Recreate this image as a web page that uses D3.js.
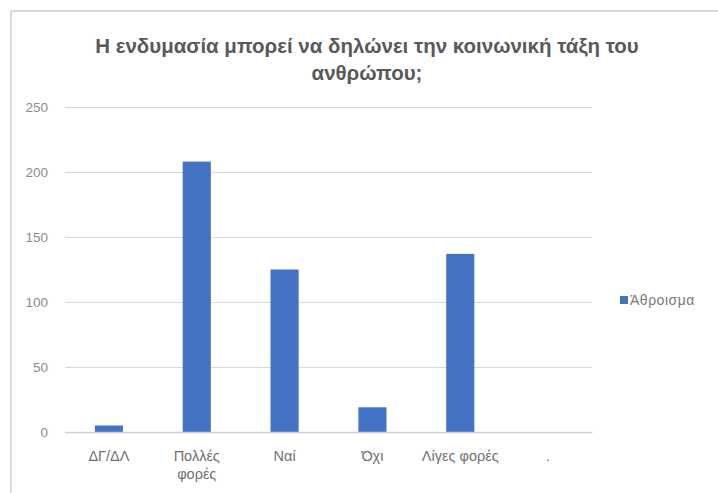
<!DOCTYPE html>
<html><head><meta charset="utf-8">
<script src="https://cdn.jsdelivr.net/npm/d3@7"></script>
<style>body{margin:0;background:#fff}svg{display:block}</style>
</head><body>
<svg id="c" width="718" height="493"></svg>
<script>
const categories = ["ΔΓ/ΔΛ", "Πολλές φορές", "Ναί", "Όχι", "Λίγες φορές", "."];
const values = [5, 208, 125, 19, 137, 0];
const yTicks = [0, 50, 100, 150, 200, 250];
const seriesName = "Άθροισμα";
const titleLines = ["Η ενδυμασία μπορεί να δηλώνει την κοινωνική τάξη του", "ανθρώπου;"];

const svg = d3.select("#c");
const font = "'Liberation Sans', Arial, sans-serif";
// frame
svg.append("path").attr("d", "M11,493 V11 H718").attr("fill", "none").attr("stroke", "#d0d0d0").attr("stroke-width", 1.5);

const m = {l: 65, r: 592, t: 107, b: 432};
const x = d3.scaleBand().domain(categories).range([m.l, m.r]).paddingInner(0.68).paddingOuter(0.34);
const y = d3.scaleLinear().domain([0, 250]).range([m.b, m.t]);

const yAxis = svg.append("g").attr("transform", `translate(${m.l},0)`)
  .call(d3.axisLeft(y).tickValues(yTicks).tickSize(-(m.r - m.l)).tickPadding(17));
yAxis.select(".domain").remove();
yAxis.selectAll(".tick line").attr("stroke", "#d9d9d9").attr("stroke-width", 1);
yAxis.selectAll(".tick text").attr("fill", "#8c8c8c").style("font-family", font).style("font-size", "13.5px");

svg.selectAll("rect.bar").data(values).join("rect").attr("class", "bar")
  .attr("x", (d, i) => x(categories[i])).attr("width", x.bandwidth())
  .attr("y", d => y(d)).attr("height", d => y(0) - y(d)).attr("fill", "#4472c4");

const xAxis = svg.append("g").attr("transform", `translate(0,${m.b})`)
  .call(d3.axisBottom(x).tickSize(0).tickPadding(19));
xAxis.select(".domain").attr("stroke", "#d0d0d0").attr("stroke-width", 1.5);
xAxis.selectAll(".tick text").attr("fill", "#707070").style("font-family", font).style("font-size", "14.5px")
  .each(function(d) {
    const t = d3.select(this);
    if (d === "Πολλές φορές") {
      t.text(null);
      t.append("tspan").attr("x", 0).attr("dy", "0.71em").text("Πολλές");
      t.append("tspan").attr("x", 0).attr("dy", "1.25em").text("φορές");
      t.attr("dy", null);
    }
  });

svg.append("g").selectAll("text").data(titleLines).join("text")
  .attr("x", 367).attr("y", (d, i) => 53 + i * 27).attr("text-anchor", "middle")
  .attr("fill", "#595959").style("font-family", font).style("font-size", "20.5px").style("font-weight", "bold")
  .text(d => d);

const lg = svg.append("g").attr("transform", "translate(620,296)");
lg.append("rect").attr("width", 8).attr("height", 8).attr("fill", "#4472c4");
lg.append("text").attr("x", 10).attr("y", 9).attr("fill", "#7a7a7a").style("font-family", font).style("font-size", "14px").attr("letter-spacing", "0.5px").text(seriesName);
</script>
</body></html>
